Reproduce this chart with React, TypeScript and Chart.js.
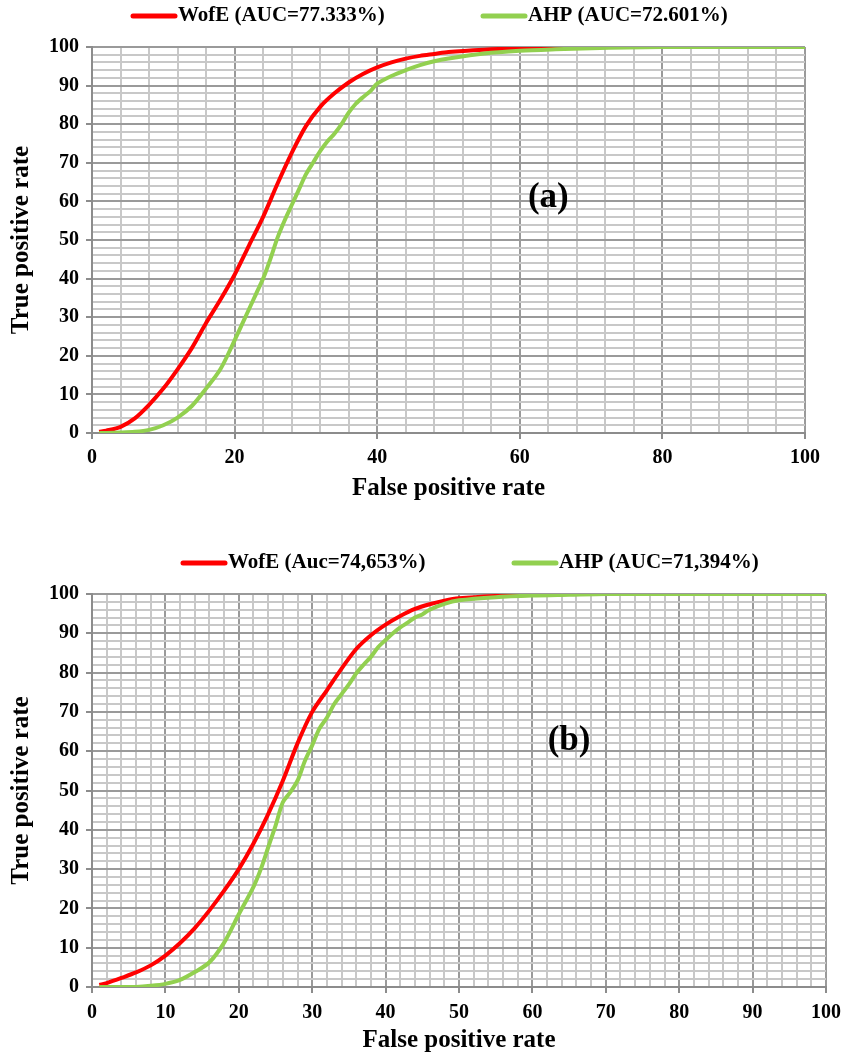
import React, { useEffect, useRef } from "react";
import { Chart, registerables } from "chart.js";

Chart.register(...registerables);

const FONT = '"Liberation Serif", "Times New Roman", Times, serif';

// ---------- Panel (a) data ----------
const A_WOFE_LABEL = "WofE (AUC=77.333%)";
const A_AHP_LABEL = "AHP (AUC=72.601%)";
const A_WOFE_X = [1, 2, 4, 6, 8, 10, 12, 14, 16, 18, 20, 22, 24, 26, 28, 30, 32, 34, 36, 38, 40, 42, 44, 46, 48, 50, 55, 60, 65, 70, 80, 90, 100];
const A_WOFE_Y = [0.3, 0.6, 1.6, 3.8, 7.3, 11.5, 16.5, 22, 28.5, 34.5, 41, 48.5, 56, 64.5, 72.5, 79.5, 84.5, 88, 90.8, 93, 94.7, 96, 97, 97.7, 98.2, 98.7, 99.3, 99.7, 99.9, 100, 100, 100, 100];
const A_AHP_X = [1, 2, 4, 6, 8, 10, 12, 14, 16, 18, 20, 22, 23, 24, 25, 26, 27, 28, 29, 30, 31, 32, 33, 34, 35, 36, 37, 38, 39, 40, 42, 44, 46, 48, 50, 55, 60, 65, 70, 75, 80, 90, 100];
const A_AHP_Y = [0, 0, 0.1, 0.3, 0.8, 2, 4, 7, 11.5, 16.5, 24, 32, 36, 40, 45, 50.5, 55, 59, 63, 67, 70, 73, 75.5, 77.5, 80, 83, 85.3, 87, 88.5, 90.5, 92.5, 94, 95.3, 96.3, 97, 98.3, 99, 99.4, 99.7, 99.9, 100, 100, 100];

// ---------- Panel (b) data ----------
const B_WOFE_LABEL = "WofE (Auc=74,653%)";
const B_AHP_LABEL = "AHP (AUC=71,394%)";
const B_WOFE_X = [1, 2, 4, 6, 8, 10, 12, 14, 16, 18, 20, 22, 24, 26, 28, 30, 32, 34, 36, 38, 40, 42, 44, 46, 48, 50, 55, 60, 65, 70, 80, 90, 100];
const B_WOFE_Y = [0.5, 1, 2.3, 3.7, 5.5, 8, 11.2, 15, 19.5, 24.5, 30, 36.5, 44, 52.5, 62, 70, 75.5, 81, 86, 89.5, 92.2, 94.4, 96.2, 97.4, 98.3, 98.9, 99.5, 99.8, 100, 100, 100, 100, 100];
const B_AHP_X = [1, 2, 4, 6, 8, 10, 12, 14, 16, 18, 20, 22, 23, 24, 25, 26, 27, 28, 29, 30, 31, 32, 33, 34, 35, 36, 37, 38, 39, 40, 41, 42, 43, 44, 45, 46, 48, 50, 55, 60, 65, 70, 80, 90, 100];
const B_AHP_Y = [0, 0, 0, 0, 0.3, 0.8, 1.8, 3.8, 6.3, 11.3, 18.5, 25.5, 30, 35.5, 41, 47, 49.5, 52.5, 57.5, 61.5, 65.8, 68.5, 72, 74.5, 77, 79.8, 82, 84, 86.5, 88.3, 90, 91.5, 92.7, 94, 94.8, 96, 97.5, 98.4, 99.2, 99.6, 99.8, 100, 100, 100, 100];

const X_TITLE = "False positive rate";
const Y_TITLE = "True positive rate";

const RED = "#ff0000";
const GREEN = "#92d050";

const zip = (xs: number[], ys: number[]) => xs.map((x, i) => ({ x, y: ys[i] }));

type PanelCfg = {
  top: number;
  height: number;
  padTop: number;
  padRight: number;
  xStep: number;
  xMajor: number;
  wofeLabel: string;
  ahpLabel: string;
  wofe: { x: number; y: number }[];
  ahp: { x: number; y: number }[];
  legendY: number;
  legendRedX: number;
  legendGreenX: number;
  tag: string;
  tagX: number;
  tagY: number;
  xScaleHeight: number;
  xTitlePadBottom: number;
  xTickPad: number;
};

const PANELS: PanelCfg[] = [
  {
    top: 0,
    height: 510,
    padTop: 47,
    padRight: 51,
    xStep: 4,
    xMajor: 20,
    wofeLabel: A_WOFE_LABEL,
    ahpLabel: A_AHP_LABEL,
    wofe: zip(A_WOFE_X, A_WOFE_Y),
    ahp: zip(A_AHP_X, A_AHP_Y),
    legendY: 16,
    legendRedX: 133,
    legendGreenX: 483,
    tag: "(a)",
    tagX: 64,
    tagY: 61,
    xScaleHeight: 77,
    xTitlePadBottom: 6,
    xTickPad: 7,
  },
  {
    top: 510,
    height: 548,
    padTop: 84,
    padRight: 30,
    xStep: 2,
    xMajor: 10,
    wofeLabel: B_WOFE_LABEL,
    ahpLabel: B_AHP_LABEL,
    wofe: zip(B_WOFE_X, B_WOFE_Y),
    ahp: zip(B_AHP_X, B_AHP_Y),
    legendY: 53,
    legendRedX: 183,
    legendGreenX: 514,
    tag: "(b)",
    tagX: 65,
    tagY: 62.5,
    xScaleHeight: 71,
    xTitlePadBottom: 2,
    xTickPad: 8,
  },
];

const MAJOR_GRID = "#9a9a9a";
const MINOR_GRID = "#c8c8c8";
const AXIS = "#8c8c8c";

function ChartPanel({ cfg }: { cfg: PanelCfg }) {
  const ref = useRef<HTMLCanvasElement | null>(null);
  useEffect(() => {
    if (!ref.current) return;
    const overlay = {
      id: "overlay",
      afterDraw(chart: any) {
        const ctx = chart.ctx;
        ctx.save();
        ctx.font = `bold 21px ${FONT}`;
        ctx.textBaseline = "middle";
        ctx.textAlign = "left";
        const items = [
          { x: cfg.legendRedX, color: RED, text: cfg.wofeLabel },
          { x: cfg.legendGreenX, color: GREEN, text: cfg.ahpLabel },
        ];
        items.forEach((it) => {
          ctx.strokeStyle = it.color;
          ctx.lineWidth = 5;
          ctx.lineCap = "round";
          ctx.beginPath();
          ctx.moveTo(it.x, cfg.legendY);
          ctx.lineTo(it.x + 42, cfg.legendY);
          ctx.stroke();
          ctx.fillStyle = "#000";
          ctx.fillText(it.text, it.x + 45, cfg.legendY);
        });
        const xs = chart.scales.x;
        const ys = chart.scales.y;
        ctx.font = `bold 35px ${FONT}`;
        ctx.textAlign = "center";
        ctx.fillText(cfg.tag, xs.getPixelForValue(cfg.tagX), ys.getPixelForValue(cfg.tagY));
        ctx.restore();
      },
    };
    const chart = new Chart(ref.current, {
      type: "line",
      data: {
        datasets: [
          {
            label: cfg.wofeLabel,
            data: cfg.wofe,
            borderColor: RED,
            backgroundColor: RED,
            borderWidth: 4,
            pointRadius: 0,
            tension: 0.3,
            order: 1,
          },
          {
            label: cfg.ahpLabel,
            data: cfg.ahp,
            borderColor: GREEN,
            backgroundColor: GREEN,
            borderWidth: 4,
            pointRadius: 0,
            tension: 0.3,
            order: 0,
          },
        ],
      },
      options: {
        animation: false,
        responsive: false,
        devicePixelRatio: 1,
        layout: { padding: { top: cfg.padTop, right: cfg.padRight, left: 0, bottom: 0 } },
        plugins: {
          legend: { display: false },
          tooltip: { enabled: false },
        },
        scales: {
          x: {
            type: "linear",
            min: 0,
            max: 100,
            ticks: {
              stepSize: cfg.xStep,
              autoSkip: false,
              maxRotation: 0,
              padding: cfg.xTickPad,
              color: "#000",
              font: { family: FONT, size: 20, weight: "bold" },
              callback: (v: any) => (Number(v) % cfg.xMajor === 0 ? String(v) : ""),
            },
            grid: {
              color: (c: any) => (c.tick && c.tick.value % cfg.xMajor === 0 ? MAJOR_GRID : MINOR_GRID),
              lineWidth: 2,
              tickLength: 6,
              tickColor: (c: any) => (c.tick && c.tick.value % cfg.xMajor === 0 ? AXIS : "rgba(0,0,0,0)"),
            },
            border: { color: AXIS, width: 2 },
            title: {
              display: true,
              text: X_TITLE,
              color: "#000",
              font: { family: FONT, size: 25, weight: "bold" },
              padding: { top: 0, bottom: cfg.xTitlePadBottom },
            },
            afterFit: (scale: any) => {
              scale.height = cfg.xScaleHeight;
            },
          },
          y: {
            type: "linear",
            min: 0,
            max: 100,
            ticks: {
              stepSize: 2,
              autoSkip: false,
              padding: 7,
              color: "#000",
              font: { family: FONT, size: 20, weight: "bold" },
              callback: (v: any) => (Number(v) % 10 === 0 ? String(v) : ""),
            },
            grid: {
              color: (c: any) => (c.tick && c.tick.value % 10 === 0 ? MAJOR_GRID : MINOR_GRID),
              lineWidth: 2,
              tickLength: 6,
              tickColor: (c: any) => (c.tick && c.tick.value % 10 === 0 ? AXIS : "rgba(0,0,0,0)"),
            },
            border: { color: AXIS, width: 2 },
            title: {
              display: true,
              text: Y_TITLE,
              color: "#000",
              font: { family: FONT, size: 25, weight: "bold" },
              padding: { top: 7, bottom: 0 },
            },
            afterFit: (scale: any) => {
              scale.width = 92;
            },
          },
        },
      },
      plugins: [overlay],
    } as any);
    return () => chart.destroy();
  }, [cfg]);
  return (
    <canvas
      ref={ref}
      width={856}
      height={cfg.height}
      style={{ position: "absolute", left: 0, top: cfg.top, width: 856, height: cfg.height }}
    />
  );
}

export default function App() {
  return (
    <div style={{ position: "absolute", left: 0, top: 0, width: 856, height: 1058, background: "#fff" }}>
      {PANELS.map((p, i) => (
        <ChartPanel key={i} cfg={p} />
      ))}
    </div>
  );
}
